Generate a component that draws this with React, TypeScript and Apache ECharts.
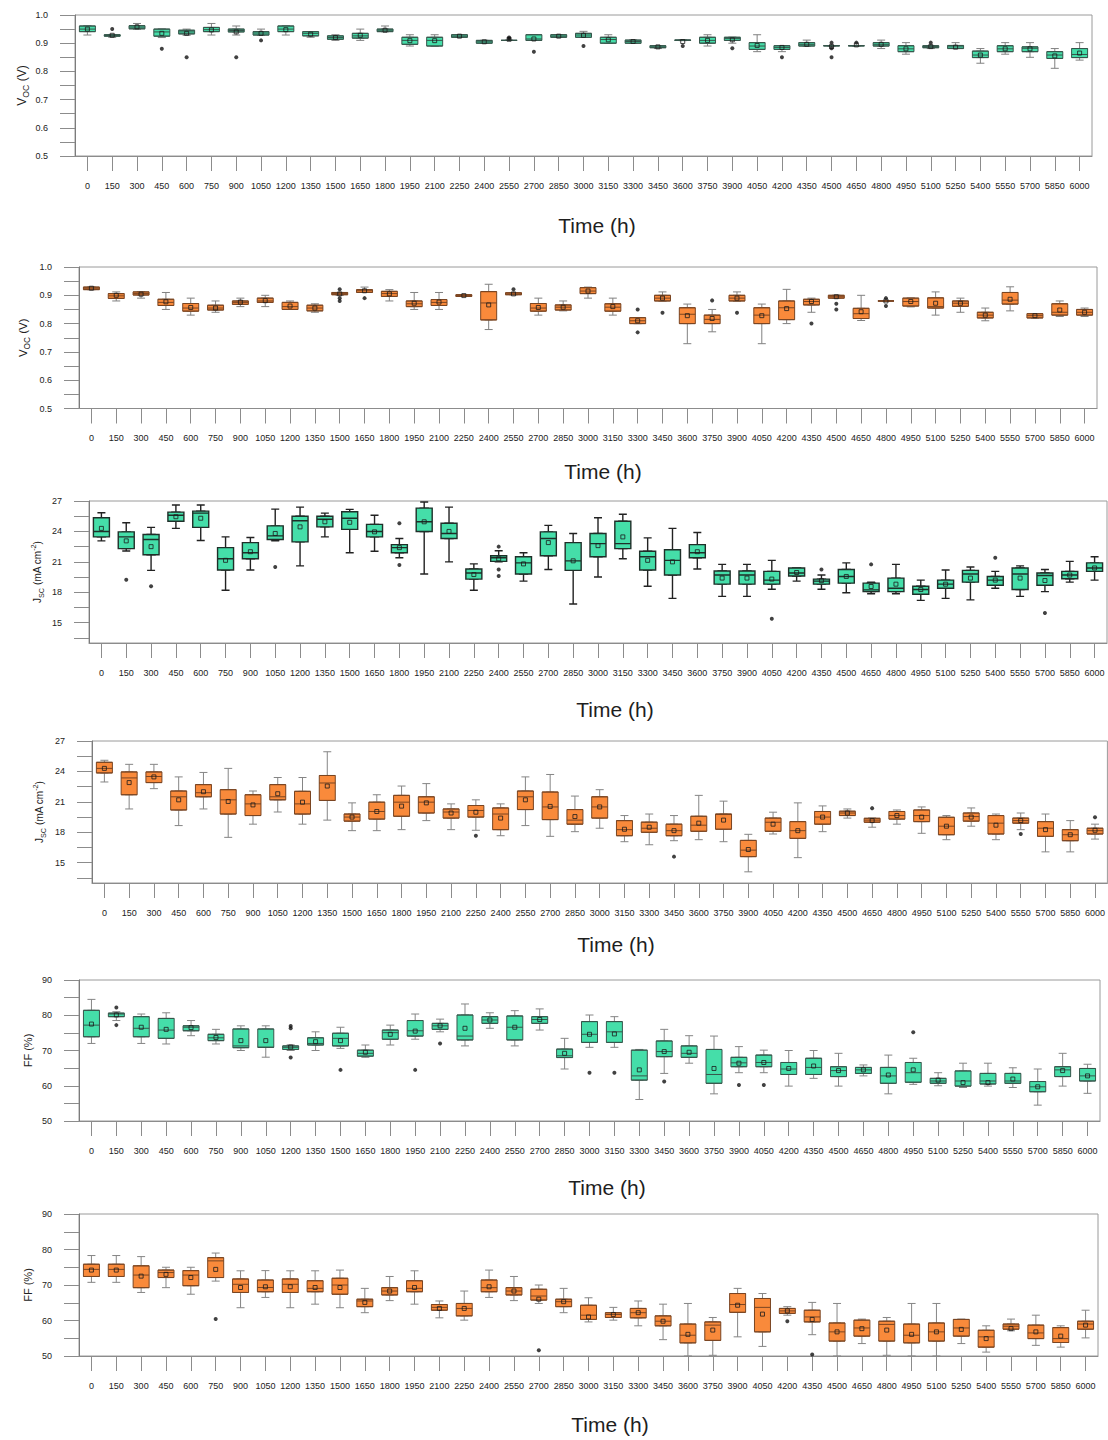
import React, { useEffect, useRef } from 'react';
import * as echarts from 'echarts';

// Time points (h) shared by every panel
const hours = ['0', '150', '300', '450', '600', '750', '900', '1050', '1200', '1350', '1500', '1650', '1800', '1950', '2100', '2250', '2400', '2550', '2700', '2850', '3000', '3150', '3300', '3450', '3600', '3750', '3900', '4050', '4200', '4350', '4500', '4650', '4800', '4950', '5100', '5250', '5400', '5550', '5700', '5850', '6000'];

// Each box: [lower whisker, Q1, median, Q3, upper whisker]
const vocGreenBoxes = [
  [0.929, 0.941, 0.950, 0.961, 0.961], [0.921, 0.925, 0.927, 0.930, 0.931], [0.950, 0.951, 0.957, 0.962, 0.970], [0.920, 0.925, 0.940, 0.950, 0.950],
  [0.928, 0.933, 0.940, 0.946, 0.950], [0.929, 0.941, 0.948, 0.956, 0.970], [0.929, 0.940, 0.945, 0.950, 0.961], [0.929, 0.929, 0.936, 0.941, 0.950],
  [0.929, 0.941, 0.950, 0.961, 0.961], [0.921, 0.926, 0.935, 0.941, 0.941], [0.910, 0.914, 0.920, 0.926, 0.930], [0.910, 0.918, 0.926, 0.935, 0.950],
  [0.941, 0.941, 0.946, 0.950, 0.961], [0.890, 0.896, 0.910, 0.921, 0.930], [0.890, 0.890, 0.910, 0.921, 0.930], [0.921, 0.921, 0.925, 0.930, 0.930],
  [0.900, 0.900, 0.905, 0.910, 0.910], [0.910, 0.910, 0.910, 0.910, 0.910], [0.910, 0.910, 0.915, 0.930, 0.930], [0.921, 0.921, 0.925, 0.930, 0.930],
  [0.921, 0.921, 0.929, 0.935, 0.942], [0.900, 0.900, 0.913, 0.921, 0.930], [0.900, 0.900, 0.906, 0.911, 0.911], [0.881, 0.884, 0.887, 0.891, 0.891],
  [0.909, 0.910, 0.911, 0.911, 0.911], [0.890, 0.900, 0.910, 0.921, 0.930], [0.900, 0.910, 0.917, 0.921, 0.921], [0.870, 0.878, 0.890, 0.902, 0.930],
  [0.870, 0.878, 0.885, 0.891, 0.891], [0.890, 0.890, 0.896, 0.902, 0.911], [0.891, 0.891, 0.891, 0.891, 0.891], [0.891, 0.891, 0.891, 0.891, 0.891],
  [0.881, 0.890, 0.896, 0.902, 0.911], [0.861, 0.870, 0.880, 0.891, 0.902], [0.881, 0.884, 0.888, 0.891, 0.891], [0.881, 0.881, 0.887, 0.892, 0.902],
  [0.829, 0.849, 0.858, 0.872, 0.881], [0.861, 0.870, 0.880, 0.891, 0.902], [0.850, 0.870, 0.882, 0.887, 0.902], [0.811, 0.846, 0.858, 0.870, 0.881],
  [0.840, 0.849, 0.860, 0.881, 0.902],
];
const vocGreenMeans = [0.950, 0.928, 0.958, 0.935, 0.935, 0.947, 0.940, 0.935, 0.948, 0.932, 0.920, 0.928, 0.946, 0.909, 0.909, 0.925, 0.905, 0.914, 0.915, 0.925, 0.928, 0.912, 0.906, 0.887, 0.906, 0.910, 0.912, 0.892, 0.885, 0.896, 0.888, 0.894, 0.896, 0.880, 0.888, 0.886, 0.858, 0.880, 0.880, 0.855, 0.865];
const vocGreenOutliers = [['150', 0.950], ['450', 0.880], ['600', 0.850], ['900', 0.850], ['1050', 0.910], ['2550', 0.920], ['2550', 0.916], ['2700', 0.870], ['3000', 0.890], ['3600', 0.890], ['3900', 0.882], ['4200', 0.850], ['4500', 0.902], ['4500', 0.882], ['4500', 0.850], ['4650', 0.902], ['5100', 0.902]];

const vocOrangeBoxes = [
  [0.920, 0.920, 0.925, 0.929, 0.929], [0.880, 0.889, 0.898, 0.906, 0.912], [0.890, 0.901, 0.906, 0.912, 0.912], [0.850, 0.864, 0.875, 0.886, 0.910],
  [0.830, 0.844, 0.855, 0.871, 0.890], [0.840, 0.848, 0.855, 0.865, 0.880], [0.860, 0.868, 0.875, 0.880, 0.890], [0.860, 0.875, 0.880, 0.890, 0.900],
  [0.850, 0.850, 0.860, 0.875, 0.880], [0.840, 0.845, 0.855, 0.865, 0.870], [0.900, 0.902, 0.906, 0.910, 0.910], [0.910, 0.910, 0.916, 0.920, 0.929],
  [0.880, 0.896, 0.906, 0.914, 0.920], [0.850, 0.860, 0.870, 0.880, 0.910], [0.850, 0.864, 0.875, 0.885, 0.910], [0.896, 0.896, 0.899, 0.902, 0.902],
  [0.779, 0.813, 0.873, 0.913, 0.939], [0.902, 0.902, 0.905, 0.909, 0.909], [0.830, 0.844, 0.855, 0.871, 0.890], [0.845, 0.848, 0.858, 0.866, 0.880],
  [0.890, 0.906, 0.915, 0.927, 0.929], [0.830, 0.844, 0.858, 0.870, 0.890], [0.800, 0.800, 0.810, 0.821, 0.821], [0.880, 0.880, 0.890, 0.900, 0.912],
  [0.729, 0.800, 0.833, 0.856, 0.869], [0.771, 0.800, 0.815, 0.830, 0.850], [0.880, 0.880, 0.890, 0.900, 0.912], [0.729, 0.800, 0.830, 0.856, 0.869],
  [0.800, 0.814, 0.856, 0.880, 0.921], [0.840, 0.866, 0.878, 0.886, 0.890], [0.890, 0.890, 0.895, 0.900, 0.900], [0.811, 0.818, 0.835, 0.854, 0.900],
  [0.880, 0.880, 0.880, 0.880, 0.880], [0.859, 0.862, 0.878, 0.890, 0.890], [0.830, 0.855, 0.860, 0.891, 0.912], [0.840, 0.861, 0.872, 0.880, 0.890],
  [0.810, 0.820, 0.830, 0.840, 0.855], [0.845, 0.869, 0.883, 0.910, 0.930], [0.820, 0.820, 0.828, 0.835, 0.835], [0.825, 0.830, 0.840, 0.870, 0.880],
  [0.825, 0.830, 0.840, 0.850, 0.855],
];
const vocOrangeMeans = [0.925, 0.900, 0.904, 0.877, 0.857, 0.855, 0.876, 0.881, 0.862, 0.855, 0.905, 0.916, 0.905, 0.872, 0.876, 0.899, 0.866, 0.905, 0.857, 0.858, 0.915, 0.860, 0.810, 0.890, 0.828, 0.818, 0.890, 0.828, 0.853, 0.878, 0.895, 0.842, 0.880, 0.878, 0.872, 0.872, 0.830, 0.886, 0.828, 0.848, 0.840];
const vocOrangeOutliers = [['1500', 0.921], ['1500', 0.890], ['1500', 0.880], ['1650', 0.890], ['2550', 0.921], ['3300', 0.850], ['3300', 0.769], ['3450', 0.838], ['3750', 0.882], ['3900', 0.838], ['4350', 0.800], ['4500', 0.870], ['4500', 0.850], ['4800', 0.890], ['4800', 0.862]];

const jscGreenBoxes = [
  [23.07, 23.46, 24.0, 25.35, 25.84], [22.07, 22.3, 23.46, 23.96, 24.85], [20.16, 21.7, 23.2, 23.7, 24.4], [24.3, 25.0, 25.6, 25.9, 26.6],
  [23.1, 24.4, 25.8, 26.0, 26.6], [18.2, 20.2, 21.3, 22.4, 23.46], [20.2, 21.3, 21.9, 22.9, 23.4], [23.07, 23.2, 23.56, 24.55, 26.2],
  [20.6, 22.97, 25.05, 25.5, 26.4], [23.46, 24.45, 25.2, 25.5, 25.8], [21.9, 24.2, 25.3, 25.94, 26.17], [22.04, 23.46, 24.0, 24.7, 25.6],
  [21.4, 21.9, 22.4, 22.7, 23.3], [19.8, 24.0, 24.95, 26.3, 26.9], [21.0, 23.3, 23.8, 24.8, 26.4], [18.2, 19.3, 19.9, 20.3, 20.8],
  [21.0, 21.05, 21.4, 21.6, 22.1], [19.1, 19.8, 20.9, 21.5, 21.9], [20.25, 21.6, 23.3, 23.96, 24.6], [16.85, 20.16, 21.1, 22.9, 23.8],
  [19.5, 21.5, 22.8, 23.8, 25.35], [21.3, 22.3, 22.8, 25.0, 25.7], [18.6, 20.2, 21.5, 22.04, 23.36], [17.4, 19.7, 21.15, 22.2, 24.3],
  [20.3, 21.4, 21.9, 22.7, 23.9], [17.6, 18.8, 19.7, 20.1, 20.75], [17.6, 18.8, 19.7, 20.1, 20.75], [18.3, 18.8, 19.2, 20.06, 21.15],
  [19.1, 19.6, 19.9, 20.4, 20.4], [18.3, 18.8, 19.1, 19.3, 19.7], [17.95, 18.9, 19.56, 20.25, 20.9], [17.85, 18.07, 18.24, 18.9, 19.0],
  [17.85, 18.07, 18.4, 19.4, 20.75], [17.2, 17.8, 18.27, 18.6, 19.2], [17.4, 18.4, 18.8, 19.2, 20.2], [17.25, 19.0, 19.8, 20.16, 20.5],
  [18.4, 18.7, 19.2, 19.56, 20.06], [17.6, 18.27, 19.8, 20.4, 20.6], [18.07, 18.7, 19.66, 19.9, 20.25], [19.0, 19.33, 19.7, 20.06, 21.05],
  [19.2, 20.06, 20.4, 20.9, 21.5],
];
const jscGreenMeans = [24.3, 23.07, 22.5, 25.45, 25.3, 21.15, 22.0, 23.8, 24.45, 24.95, 24.9, 23.96, 22.4, 24.95, 24.0, 19.75, 21.3, 20.8, 22.9, 21.1, 22.6, 23.46, 21.15, 21.0, 22.0, 19.4, 19.4, 19.3, 19.95, 19.15, 19.56, 18.57, 18.8, 18.27, 18.8, 19.4, 19.2, 19.4, 19.16, 19.7, 20.4];
const jscGreenOutliers = [['150', 19.23], ['300', 18.6], ['1050', 20.5], ['1800', 24.8], ['1800', 20.7], ['2400', 22.5], ['2400', 20.25], ['2400', 19.6], ['4050', 15.4], ['4350', 20.25], ['4650', 20.75], ['5400', 21.4], ['5700', 15.96]];

const jscOrangeBoxes = [
  [22.96, 23.85, 24.3, 24.9, 25.1], [20.3, 21.7, 23.36, 23.95, 24.7], [22.3, 22.9, 23.5, 23.95, 24.7], [18.66, 20.2, 21.5, 22.07, 23.46],
  [20.3, 21.5, 21.9, 22.7, 23.9], [17.5, 19.8, 21.2, 22.2, 24.3], [18.8, 19.65, 20.8, 21.7, 22.07], [20.0, 21.2, 21.5, 22.7, 23.4],
  [18.8, 19.8, 20.8, 22.04, 23.4], [19.2, 21.14, 22.86, 23.6, 25.94], [18.16, 19.1, 19.5, 19.8, 20.9], [18.16, 19.3, 20.05, 20.97, 21.7],
  [18.26, 19.58, 20.97, 21.64, 22.56], [19.15, 19.9, 20.97, 21.5, 22.8], [18.26, 19.4, 20.0, 20.3, 20.8], [18.2, 19.5, 20.15, 20.64, 21.2],
  [17.66, 18.26, 19.8, 20.4, 20.8], [18.66, 20.24, 21.5, 22.07, 23.46], [17.6, 19.25, 20.5, 21.97, 23.7], [18.06, 18.8, 19.2, 20.24, 21.57],
  [18.4, 19.4, 20.5, 21.5, 22.2], [17.07, 17.66, 18.26, 19.15, 19.65], [16.77, 18.0, 18.4, 19.0, 19.8], [17.17, 17.66, 18.16, 18.8, 19.65],
  [17.27, 18.1, 18.7, 19.58, 21.64], [17.07, 18.3, 19.75, 19.8, 21.07], [14.1, 15.6, 16.24, 17.2, 17.8], [17.83, 18.1, 18.99, 19.4, 19.98],
  [15.5, 17.4, 18.16, 19.05, 20.9], [18.06, 18.8, 19.5, 20.05, 20.6], [19.4, 19.65, 19.9, 20.08, 20.3], [18.5, 18.99, 19.2, 19.38, 19.4],
  [18.8, 19.3, 19.65, 20.05, 20.2], [17.9, 19.05, 19.65, 20.2, 20.5], [17.27, 17.76, 18.6, 19.48, 19.65], [18.6, 19.1, 19.55, 19.9, 20.4],
  [17.27, 17.83, 18.9, 19.65, 19.8], [18.26, 18.9, 19.15, 19.4, 19.9], [16.07, 17.6, 18.4, 19.05, 19.8], [16.07, 17.17, 17.76, 18.26, 19.15],
  [17.33, 17.83, 18.16, 18.4, 18.8],
];
const jscOrangeMeans = [24.3, 22.9, 23.46, 21.2, 22.0, 21.04, 20.7, 21.8, 20.97, 22.56, 19.5, 20.05, 20.58, 20.9, 19.9, 19.98, 19.4, 21.2, 20.55, 19.55, 20.5, 18.3, 18.5, 18.16, 18.9, 19.2, 16.3, 18.8, 18.16, 19.5, 19.9, 19.15, 19.65, 19.5, 18.6, 19.5, 18.7, 19.15, 18.26, 17.76, 18.2];
const jscOrangeOutliers = [['2250', 17.66], ['3450', 15.6], ['4650', 20.38], ['5550', 17.83], ['6000', 19.48]];

const ffGreenBoxes = [
  [72.0, 73.9, 77.2, 81.4, 84.5], [78.5, 79.6, 80.35, 80.6, 81.0], [72.0, 73.9, 76.3, 79.6, 80.35], [71.85, 73.45, 75.8, 79.1, 80.7],
  [74.2, 75.6, 76.6, 77.0, 78.5], [71.85, 72.8, 73.6, 74.6, 76.0], [70.0, 70.8, 71.3, 76.1, 77.0], [68.1, 70.9, 70.9, 76.1, 77.0],
  [70.0, 70.3, 70.9, 71.3, 71.6], [70.0, 71.56, 72.0, 73.6, 75.3], [70.6, 71.3, 73.45, 74.9, 76.6], [68.06, 68.4, 69.2, 70.1, 71.56],
  [71.56, 73.2, 75.06, 75.8, 77.2], [73.2, 74.1, 75.6, 78.5, 80.35], [75.3, 76.0, 77.0, 77.7, 78.9], [71.3, 73.0, 74.1, 80.07, 83.2],
  [76.3, 77.7, 78.65, 79.6, 80.7], [71.3, 73.0, 76.6, 79.8, 81.3], [75.8, 77.7, 78.8, 79.6, 81.8], [64.75, 68.0, 68.5, 70.4, 73.45],
  [70.9, 72.3, 74.6, 78.2, 80.07], [70.9, 72.3, 75.3, 78.2, 79.6], [56.1, 61.6, 62.8, 70.1, 70.3], [63.5, 68.25, 69.7, 72.7, 76.0],
  [66.4, 68.06, 69.2, 71.3, 74.2], [57.7, 60.7, 63.2, 70.3, 74.1], [63.7, 65.4, 66.5, 68.06, 71.1], [63.7, 65.4, 66.6, 68.7, 70.1],
  [59.9, 63.2, 64.75, 66.6, 70.0], [62.1, 63.2, 65.2, 67.8, 70.0], [59.9, 62.6, 64.3, 65.4, 69.2], [62.8, 63.5, 64.5, 65.2, 65.9],
  [57.7, 60.7, 62.8, 65.2, 68.7], [60.4, 61.0, 63.7, 66.6, 67.8], [60.0, 60.7, 61.35, 62.1, 63.7], [59.5, 59.9, 61.35, 64.2, 66.4],
  [59.9, 60.5, 61.35, 63.5, 66.4], [59.5, 60.7, 61.35, 63.5, 65.1], [54.5, 58.3, 59.7, 61.2, 64.75], [59.9, 62.6, 64.5, 65.4, 69.2],
  [57.85, 61.35, 62.8, 64.9, 66.1],
];
const ffGreenMeans = [77.5, 80.1, 76.6, 76.0, 76.5, 73.7, 72.8, 72.8, 71.0, 72.5, 72.8, 69.5, 74.6, 75.5, 77.0, 76.3, 78.65, 76.6, 78.8, 69.2, 74.6, 74.7, 64.5, 69.7, 69.5, 64.9, 66.4, 66.6, 64.9, 65.6, 64.3, 64.5, 63.05, 64.5, 61.6, 60.9, 60.9, 61.9, 59.7, 64.3, 62.8];
const ffGreenOutliers = [['150', 82.2], ['150', 77.2], ['1200', 76.95], ['1200', 76.3], ['1200', 68.0], ['1500', 64.5], ['1950', 64.5], ['2100', 72.0], ['3000', 63.7], ['3150', 63.7], ['3450', 61.2], ['3900', 60.2], ['4050', 60.2], ['4950', 75.15]];

const ffOrangeBoxes = [
  [70.75, 72.4, 74.4, 75.85, 78.3], [70.75, 72.4, 74.4, 75.85, 78.3], [67.9, 69.25, 72.8, 75.4, 78.0], [69.25, 72.1, 73.5, 74.2, 75.0],
  [67.4, 69.8, 72.8, 74.05, 75.0], [71.1, 72.1, 76.8, 77.7, 79.0], [63.6, 67.9, 70.2, 71.7, 74.0], [66.5, 68.1, 69.3, 71.4, 74.05],
  [63.6, 67.9, 70.2, 71.7, 74.0], [64.6, 68.1, 69.05, 71.2, 74.0], [63.6, 67.4, 70.0, 71.9, 74.2], [62.2, 63.9, 65.5, 66.0, 69.05],
  [65.6, 67.2, 68.3, 69.25, 72.4], [64.6, 68.1, 69.05, 71.2, 74.0], [60.75, 62.9, 63.7, 64.5, 65.5], [60.1, 61.3, 63.4, 64.8, 68.3],
  [66.5, 68.1, 69.25, 71.4, 74.2], [65.6, 67.2, 68.3, 69.25, 72.4], [64.8, 65.75, 66.9, 68.8, 70.0], [62.2, 63.9, 65.3, 66.0, 69.05],
  [59.6, 60.3, 61.5, 64.3, 66.4], [60.1, 60.85, 61.7, 62.2, 63.7], [58.5, 60.75, 62.2, 63.4, 65.5], [54.6, 58.5, 59.8, 61.3, 64.6],
  [50.0, 53.7, 55.85, 59.0, 64.8], [50.2, 54.4, 58.7, 59.6, 60.85], [55.4, 62.3, 64.5, 67.6, 69.05], [52.7, 56.8, 63.7, 66.2, 67.6],
  [61.5, 62.0, 62.7, 63.4, 63.9], [56.0, 59.6, 61.0, 62.9, 65.1], [50.0, 54.2, 56.8, 59.3, 64.8], [53.5, 55.6, 57.9, 60.1, 60.4],
  [50.2, 54.2, 58.9, 59.8, 60.85], [50.0, 53.7, 55.85, 59.0, 64.8], [50.0, 54.2, 56.8, 59.3, 64.8], [53.5, 55.6, 57.9, 60.3, 60.4],
  [51.1, 52.5, 55.4, 57.25, 58.5], [57.1, 57.55, 58.4, 59.0, 60.4], [53.0, 54.9, 56.5, 58.7, 61.5], [52.5, 53.8, 54.9, 58.0, 58.5],
  [55.1, 57.55, 59.0, 59.8, 62.9],
];
const ffOrangeMeans = [74.2, 74.2, 72.5, 73.0, 72.1, 74.4, 69.3, 69.5, 69.5, 69.3, 69.3, 65.1, 68.3, 69.3, 63.4, 63.4, 69.5, 68.3, 66.0, 65.3, 61.0, 61.7, 62.2, 59.8, 56.1, 57.3, 64.3, 61.8, 62.7, 60.3, 56.8, 57.7, 57.3, 56.1, 56.8, 57.5, 54.9, 57.7, 56.8, 55.6, 58.7];
const ffOrangeOutliers = [['750', 60.4], ['2700', 51.6], ['4200', 59.8], ['4350', 50.4]];

// Y-axis tick positions and labelled values
const vocTicks = [0.5, 0.55, 0.6, 0.65, 0.7, 0.75, 0.8, 0.85, 0.9, 0.95, 1.0];
const vocLabels = [0.5, 0.6, 0.7, 0.8, 0.9, 1.0];
const jscTicks = [13.5, 15, 16.5, 18, 19.5, 21, 22.5, 24, 25.5, 27];
const jscLabels = [15, 18, 21, 24, 27];
const ffTicks = [50, 55, 60, 65, 70, 75, 80, 85, 90];
const ffLabels = [50, 60, 70, 80, 90];

const FONT = '"Liberation Sans", Arial, Helvetica, sans-serif';
const GREEN = '#45DEA9';
const ORANGE = '#F98A3B';

const VOC_NAME = '{m|V}{s|OC}{m| (V)}';
const JSC_NAME = '{m|J}{s|SC}{m| (mA cm}{p|-2}{m|)}';
const FF_NAME = '{m|FF (%)}';

const panels = [
  { boxes: vocGreenBoxes, means: vocGreenMeans, outliers: vocGreenOutliers, ticks: vocTicks, labels: vocLabels, min: 0.5, max: 1.0, digits: 1, name: VOC_NAME, nameSize: 12,
    fill: GREEN, border: '#36564B', whisker: '#808080', lw: 1,
    grid: { left: 75, top: 15, width: 1017, height: 141 }, title: [597, 225], nameX: 22 },
  { boxes: vocOrangeBoxes, means: vocOrangeMeans, outliers: vocOrangeOutliers, ticks: vocTicks, labels: vocLabels, min: 0.5, max: 1.0, digits: 1, name: VOC_NAME, nameSize: 11.5,
    fill: ORANGE, border: '#7A4522', whisker: '#808080', lw: 1,
    grid: { left: 79, top: 267, width: 1018, height: 141.5 }, title: [603, 471], nameX: 23 },
  { boxes: jscGreenBoxes, means: jscGreenMeans, outliers: jscGreenOutliers, ticks: jscTicks, labels: jscLabels, min: 13, max: 27, digits: 0, name: JSC_NAME, nameSize: 10,
    fill: GREEN, border: '#1F2F29', whisker: '#222222', lw: 1.4,
    grid: { left: 89, top: 501, width: 1018, height: 142 }, title: [615, 709], nameX: 37 },
  { boxes: jscOrangeBoxes, means: jscOrangeMeans, outliers: jscOrangeOutliers, ticks: jscTicks, labels: jscLabels, min: 13, max: 27, digits: 0, name: JSC_NAME, nameSize: 10,
    fill: ORANGE, border: '#7A4522', whisker: '#858585', lw: 1,
    grid: { left: 92, top: 741, width: 1018, height: 142 }, title: [616, 944], nameX: 39 },
  { boxes: ffGreenBoxes, means: ffGreenMeans, outliers: ffGreenOutliers, ticks: ffTicks, labels: ffLabels, min: 50, max: 90, digits: 0, name: FF_NAME, nameSize: 11,
    fill: GREEN, border: '#36564B', whisker: '#858585', lw: 1,
    grid: { left: 79, top: 980, width: 1021, height: 141 }, title: [607, 1187], nameX: 28 },
  { boxes: ffOrangeBoxes, means: ffOrangeMeans, outliers: ffOrangeOutliers, ticks: ffTicks, labels: ffLabels, min: 50, max: 90, digits: 0, name: FF_NAME, nameSize: 11,
    fill: ORANGE, border: '#7A4522', whisker: '#858585', lw: 1,
    grid: { left: 79, top: 1214, width: 1019, height: 142 }, title: [610, 1424], nameX: 28 },
];

function buildOption() {
  const grid: any[] = [];
  const xAxis: any[] = [];
  const yAxis: any[] = [];
  const series: any[] = [];
  const graphic: any[] = [];

  panels.forEach((p, i) => {
    grid.push({ ...p.grid, show: true, borderColor: '#9a9a9a', borderWidth: 1, backgroundColor: 'transparent' });

    // visible category axis (boxes, means, outliers)
    xAxis.push({
      gridIndex: i, type: 'category', data: hours, boundaryGap: true,
      axisLine: { show: true, lineStyle: { color: '#8c8c8c', width: 1 } },
      axisTick: { show: true, alignWithLabel: true, length: 15, lineStyle: { color: '#8c8c8c' } },
      axisLabel: { interval: 0, margin: 25, fontSize: 9, fontFamily: FONT, color: '#222' },
      splitLine: { show: false },
    });
    // hidden twin axis carrying the whiskers
    xAxis.push({ gridIndex: i, type: 'category', data: hours, boundaryGap: true, show: false });

    yAxis.push({
      gridIndex: i, type: 'value', min: p.min, max: p.max,
      axisLine: { show: true, lineStyle: { color: '#7c7c7c', width: 1 } },
      axisTick: { show: true, length: 15, customValues: p.ticks, lineStyle: { color: '#8c8c8c' } },
      axisLabel: {
        customValues: p.labels, margin: 27, fontSize: 9, fontFamily: FONT, color: '#222',
        formatter: (v: number) => v.toFixed(p.digits),
      },
      splitLine: { show: false },
    });

    const xMain = i * 2;
    const xWhisk = i * 2 + 1;

    series.push({
      type: 'boxplot', xAxisIndex: xWhisk, yAxisIndex: i, data: p.boxes,
      boxWidth: [8, 8], silent: true, z: 2,
      itemStyle: { color: 'rgba(0,0,0,0)', borderColor: p.whisker, borderWidth: p.lw },
      emphasis: { disabled: true },
    });
    series.push({
      type: 'boxplot', xAxisIndex: xMain, yAxisIndex: i,
      data: p.boxes.map((b) => [b[1], b[1], b[2], b[3], b[3]]),
      boxWidth: [16, 16], silent: true, z: 3,
      itemStyle: { color: p.fill, borderColor: p.border, borderWidth: p.lw },
      emphasis: { disabled: true },
    });
    series.push({
      type: 'scatter', xAxisIndex: xMain, yAxisIndex: i,
      data: p.means.map((m, k) => [k, m]),
      symbol: 'rect', symbolSize: 4, silent: true, z: 4,
      itemStyle: { color: 'rgba(0,0,0,0)', borderColor: '#1c1c1c', borderWidth: 1 },
    });
    series.push({
      type: 'scatter', xAxisIndex: xMain, yAxisIndex: i, data: p.outliers,
      symbol: 'circle', symbolSize: 4, silent: true, z: 4,
      itemStyle: { color: '#111' },
    });

    graphic.push({
      type: 'text', x: p.title[0], y: p.title[1],
      style: { text: 'Time (h)', fontSize: 21, fontFamily: FONT, fill: '#1e1e1e', align: 'center', verticalAlign: 'middle' },
    });
    const midY = p.grid.top + p.grid.height / 2;
    const fs = p.nameSize;
    graphic.push({
      type: 'text', x: p.nameX, y: midY, rotation: Math.PI / 2,
      style: {
        text: p.name, fill: '#222', align: 'center', verticalAlign: 'middle', fontFamily: FONT, fontSize: fs,
        rich: {
          m: { fontSize: fs, fontFamily: FONT, fill: '#222', lineHeight: fs + 5, verticalAlign: 'middle' },
          s: { fontSize: fs * 0.72, fontFamily: FONT, fill: '#222', lineHeight: fs * 0.72, verticalAlign: 'bottom' },
          p: { fontSize: fs * 0.72, fontFamily: FONT, fill: '#222', lineHeight: fs * 0.72, verticalAlign: 'top' },
        },
      },
    });
  });

  return { animation: false, backgroundColor: '#ffffff', grid, xAxis, yAxis, series, graphic };
}

export default function App() {
  const ref = useRef<HTMLDivElement>(null);
  useEffect(() => {
    if (!ref.current) return;
    const chart = echarts.init(ref.current, undefined, { renderer: 'svg' });
    chart.setOption(buildOption() as any);
    return () => chart.dispose();
  }, []);
  return <div ref={ref} style={{ position: 'absolute', left: 0, top: 0, width: 1108, height: 1440, background: '#fff' }} />;
}
